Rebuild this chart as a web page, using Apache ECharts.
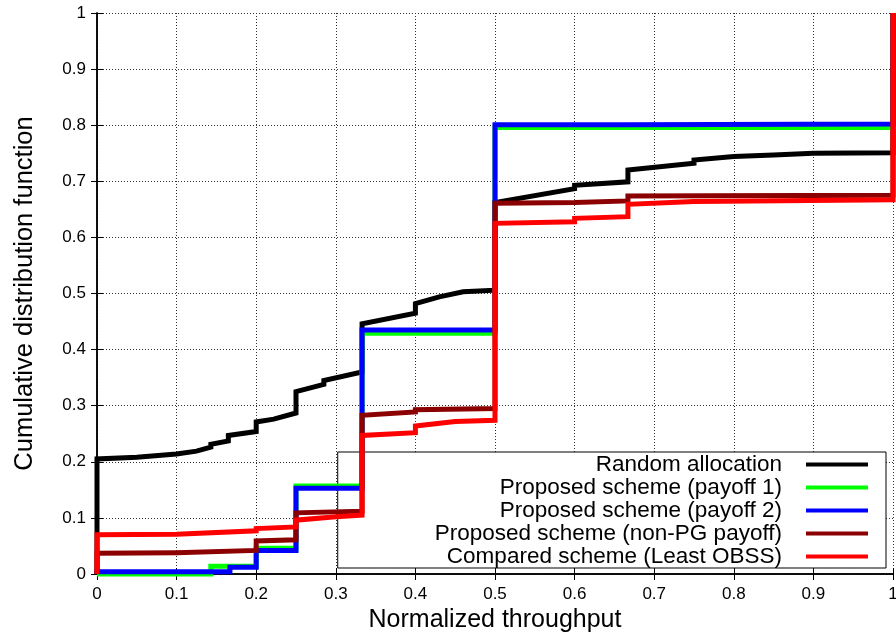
<!DOCTYPE html>
<html>
<head>
<meta charset="utf-8">
<title>CDF of normalized throughput</title>
<script src="https://cdn.jsdelivr.net/npm/echarts@6/dist/echarts.min.js"></script>
<style>
  html, body { margin: 0; padding: 0; background: #fff; }
  #chart { width: 896px; height: 633px; }
</style>
</head>
<body>
<div id="chart"></div>
<script>
// Empirical CDF curves: [normalized throughput, cumulative probability]
const randomAlloc = [
  [0, 0], [0, 0.205], [0.05, 0.208], [0.1, 0.214], [0.125, 0.219], [0.143, 0.226],
  [0.143, 0.231], [0.165, 0.237], [0.165, 0.247], [0.2, 0.254], [0.2, 0.271],
  [0.222, 0.276], [0.25, 0.287], [0.25, 0.325], [0.285, 0.338], [0.285, 0.345],
  [0.333, 0.36], [0.333, 0.446], [0.4, 0.465], [0.4, 0.482], [0.43, 0.494],
  [0.46, 0.503], [0.5, 0.506], [0.5, 0.662], [0.6, 0.687], [0.6, 0.693],
  [0.667, 0.699], [0.667, 0.72], [0.75, 0.732], [0.75, 0.738], [0.8, 0.744],
  [0.85, 0.747], [0.9, 0.75], [1, 0.751], [1, 1]
];
const payoff1 = [
  [0, 0], [0.143, 0], [0.143, 0.014], [0.2, 0.014], [0.2, 0.046], [0.25, 0.046],
  [0.25, 0.157], [0.333, 0.157], [0.333, 0.429], [0.5, 0.429], [0.5, 0.796],
  [1, 0.796], [1, 1]
];
const payoff2 = [
  [0, 0], [0, 0.004], [0.167, 0.004], [0.167, 0.012], [0.2, 0.012], [0.2, 0.042],
  [0.25, 0.042], [0.25, 0.153], [0.333, 0.153], [0.333, 0.435], [0.5, 0.435],
  [0.5, 0.801], [0.667, 0.801], [0.667, 0.802], [1, 0.802], [1, 1]
];
const nonPgPayoff = [
  [0, 0], [0, 0.037], [0.1, 0.038], [0.2, 0.042], [0.2, 0.059], [0.25, 0.061],
  [0.25, 0.109], [0.333, 0.112], [0.333, 0.283], [0.4, 0.289], [0.4, 0.293],
  [0.5, 0.295], [0.5, 0.661], [0.6, 0.662], [0.6, 0.664], [0.667, 0.665],
  [0.667, 0.674], [1, 0.675], [1, 1]
];
const leastObss = [
  [0, 0], [0, 0.07], [0.1, 0.071], [0.2, 0.077], [0.2, 0.081], [0.25, 0.084],
  [0.25, 0.096], [0.3, 0.102], [0.333, 0.105], [0.333, 0.247], [0.4, 0.252],
  [0.4, 0.264], [0.45, 0.272], [0.5, 0.274], [0.5, 0.625], [0.6, 0.628],
  [0.6, 0.634], [0.667, 0.637], [0.667, 0.659], [0.75, 0.664], [1, 0.667], [1, 1]
];

const seriesNames = [
  'Random allocation',
  'Proposed scheme (payoff 1)',
  'Proposed scheme (payoff 2)',
  'Proposed scheme (non-PG payoff)',
  'Compared scheme (Least OBSS)'
];
const seriesData = [randomAlloc, payoff1, payoff2, nonPgPayoff, leastObss];
const seriesColors = ['#000000', '#00ff00', '#0000ff', '#8b0000', '#ff0000'];

const FONT = '"Liberation Sans", Arial, Helvetica, sans-serif';
const dotted = { color: '#333', width: 1, type: [1, 2] };
const frame = { show: true, lineStyle: { color: '#000', width: 1.5 } };

function axis(extra) {
  return Object.assign({
    type: 'value', min: 0, max: 1, interval: 0.1,
    axisLine: frame,
    axisTick: { show: true, inside: true, length: 6, lineStyle: { color: '#000', width: 1 } },
    splitLine: { show: false },
    axisLabel: { show: false }
  }, extra);
}

const chart = echarts.init(document.getElementById('chart'), null, { renderer: 'canvas' });
chart.setOption({
  animation: false,
  backgroundColor: '#fff',
  textStyle: { fontFamily: FONT },
  grid: { left: 97, right: 3, top: 13, bottom: 59, containLabel: false, outerBoundsMode: 'none' },
  xAxis: [
    axis({
      position: 'bottom',
      name: 'Normalized throughput',
      nameLocation: 'middle',
      nameGap: 30,
      nameTextStyle: { fontSize: 25, color: '#000', fontFamily: FONT },
      splitLine: { show: true, lineStyle: dotted },
      axisLabel: { show: true, fontSize: 17, color: '#000', margin: 12, fontFamily: FONT }
    }),
    axis({ position: 'top' })
  ],
  yAxis: [
    axis({
      position: 'left',
      name: 'Cumulative distribution function',
      nameLocation: 'middle',
      nameGap: 59,
      nameTextStyle: { fontSize: 25.5, color: '#000', fontFamily: FONT },
      splitLine: { show: true, lineStyle: dotted },
      axisLabel: { show: true, fontSize: 17, color: '#000', margin: 11, fontFamily: FONT }
    }),
    axis({ position: 'right' })
  ],
  legend: {
    z: 1,
    orient: 'vertical',
    align: 'right',
    right: 10,
    top: 452,
    padding: [1, 18, 0, 97],
    itemGap: 0,
    itemWidth: 62,
    itemHeight: 4,
    icon: 'rect',
    backgroundColor: '#fff',
    borderColor: '#000',
    borderWidth: 1,
    borderRadius: 0,
    textStyle: { fontSize: 22.5, color: '#000', lineHeight: 23, padding: [0, 19, 0, 0], fontFamily: FONT },
    data: seriesNames
  },
  series: seriesNames.map(function (name, i) {
    return {
      name: name,
      type: 'line',
      data: seriesData[i],
      showSymbol: false,
      symbol: 'none',
      clip: false,
      color: seriesColors[i],
      lineStyle: { color: seriesColors[i], width: 5, cap: 'butt', join: 'miter' },
      z: 2 + i
    };
  })
});
</script>
</body>
</html>
